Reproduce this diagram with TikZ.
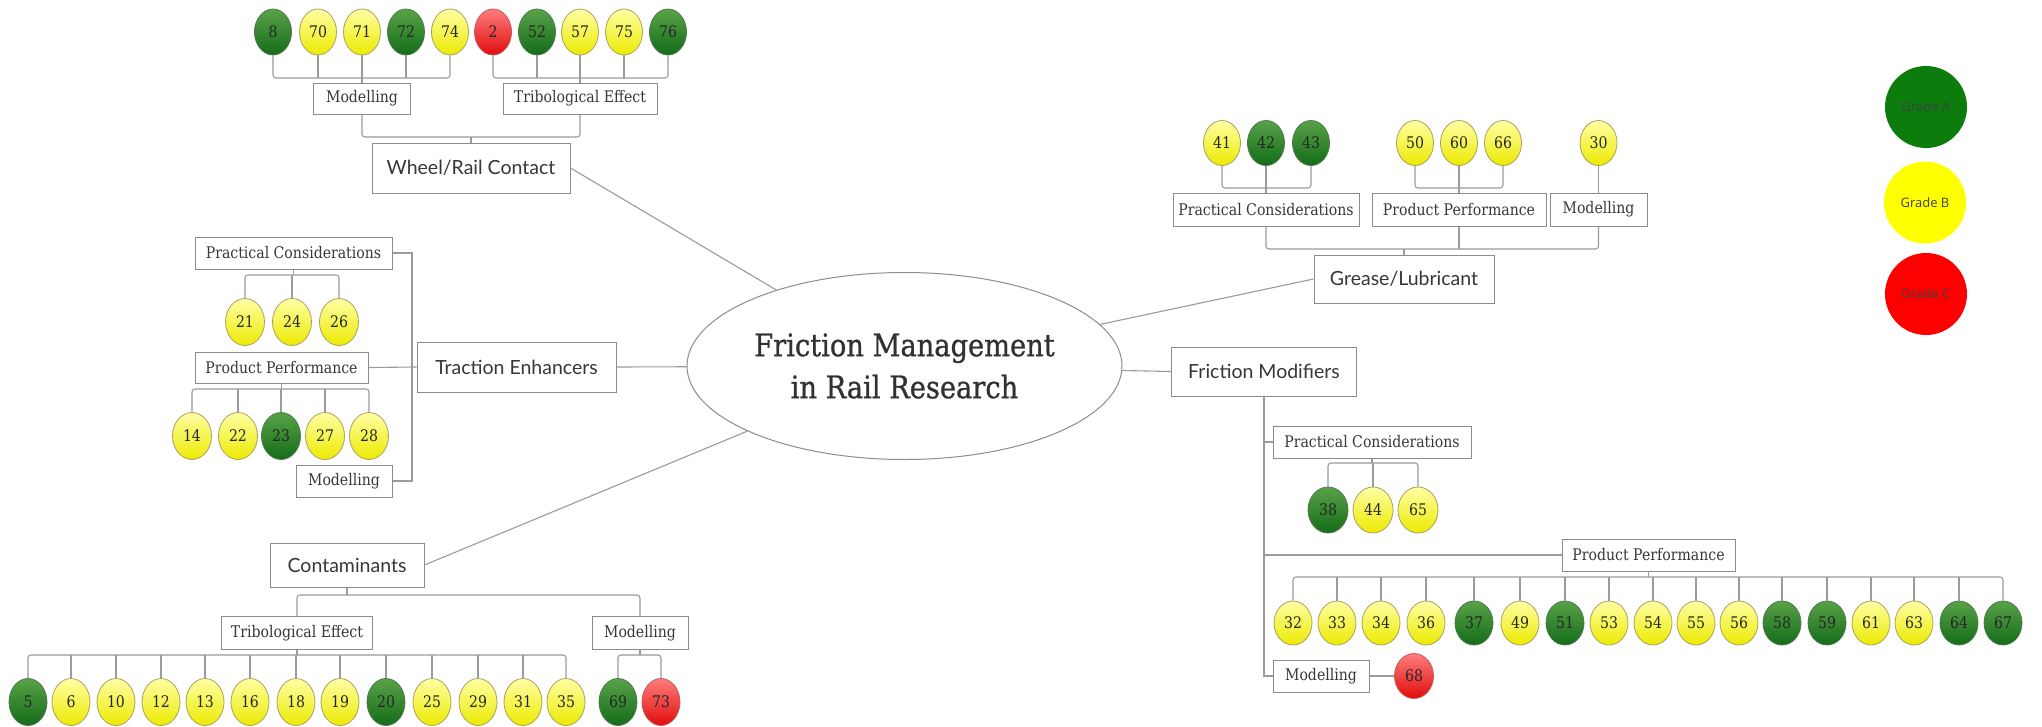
\documentclass[tikz,border=0pt]{standalone}
\usepackage{fontspec}
\setmainfont{DejaVu Serif}[FakeStretch=0.9]
\newfontfamily\slab{DejaVu Serif}[FakeStretch=0.88]
\newfontfamily\slabmed{DejaVu Serif}[FakeStretch=0.88, FakeBold=0.8]
\newfontfamily\robo{Lato}
\newfontfamily\legfont{Open Sans}
\usetikzlibrary{shapes.geometric}
\definecolor{linegray}{RGB}{155,155,155}
\definecolor{boxgray}{RGB}{140,140,140}
\definecolor{txt}{RGB}{55,55,55}
\definecolor{topA}{RGB}{88,162,72}
\definecolor{botA}{RGB}{20,108,24}
\definecolor{bordA}{RGB}{80,120,80}
\definecolor{topB}{RGB}{255,255,165}
\definecolor{botB}{RGB}{236,234,0}
\definecolor{bordB}{RGB}{170,160,95}
\definecolor{topC}{RGB}{255,125,125}
\definecolor{botC}{RGB}{224,12,12}
\definecolor{bordC}{RGB}{190,95,95}
\definecolor{legA}{RGB}{12,124,12}
\definecolor{legB}{RGB}{255,255,0}
\definecolor{legC}{RGB}{255,0,0}
\begin{document}
\begin{tikzpicture}[x=1pt,y=-1pt,
  conn/.style={draw=linegray, line width=1.1pt},
  brk/.style={conn, rounded corners=3pt},
  box/.style={draw=boxgray, fill=white, line width=1pt, inner sep=0pt, text=txt,
    font=\slab\fontsize{16}{19}\selectfont},
  mainbox/.style={box, font=\robo\fontsize{19.5}{22}\selectfont},
  circ/.style={ellipse, inner sep=0pt, minimum width=38pt, minimum height=46pt,
    line width=0.8pt, text=black!85, font=\slab\fontsize{16}{18}\selectfont},
  grade/.style={circ, draw=bord#1, top color=top#1, bottom color=bot#1},
  legend/.style={circle, inner sep=0pt, minimum size=82pt, text=black!75,
    font=\legfont\fontsize{13}{15}\selectfont},
  centre/.style={ellipse, draw=boxgray, line width=1pt, fill=white, inner sep=0pt,
    minimum width=435pt, minimum height=187pt, align=center, text=txt!90!black,
    font=\slabmed\fontsize{31}{42}\selectfont}]
\useasboundingbox (0,0) rectangle (2042,726);
\fill[white] (0,0) rectangle (2042,726);

% ---------------- centre
\node[centre] (fm) at (904.5,366) {Friction Management\\in Rail Research};

% ---------------- Wheel/Rail Contact
\node[mainbox, minimum width=198pt, minimum height=50pt] (wr) at (471,168) {Wheel/Rail Contact};
\node[box, minimum width=97pt, minimum height=31pt] (wrM) at (362,98.5) {Modelling};
\node[box, minimum width=154pt, minimum height=31pt] (wrT) at (580,98.5) {Tribological Effect};
\foreach \n/\x/\g in {8/273/A,70/318/B,71/362/B,72/406/A,74/450/B,2/493/C,52/537/A,57/580/B,75/624/B,76/668/A}
  \node[grade=\g, minimum width=37pt] (c\n) at (\x,32) {\n};
\coordinate (wrB) at (0,78);
\coordinate (wrB2) at (0,137);
\draw[brk] (c8.south) -- (c8.south |- wrB) -- (c74.south |- wrB) -- (c74.south);
\foreach \n in {70,71,72} \draw[conn] (c\n.south) -- (c\n.south |- wrB);
\draw[conn] (wrM.north) -- (wrM.north |- wrB);
\draw[brk] (c2.south) -- (c2.south |- wrB) -- (c76.south |- wrB) -- (c76.south);
\foreach \n in {52,57,75} \draw[conn] (c\n.south) -- (c\n.south |- wrB);
\draw[conn] (wrT.north) -- (wrT.north |- wrB);
\draw[brk] (wrM.south) -- (wrM.south |- wrB2) -- (wrT.south |- wrB2) -- (wrT.south);
\draw[conn] (wr.north) -- (wr.north |- wrB2);

% ---------------- Traction Enhancers
\node[mainbox, minimum width=199pt, minimum height=50pt] (te) at (516.5,367) {Traction Enhancers};
\node[box, minimum width=197pt, minimum height=32pt] (tePC) at (293.5,253) {Practical Considerations};
\node[box, minimum width=173pt, minimum height=31pt] (tePP) at (281.5,367.5) {Product Performance};
\node[box, minimum width=96pt, minimum height=32pt] (teM) at (344,481) {Modelling};
\foreach \n/\x/\g in {21/245/B,24/292/B,26/339/B}
  \node[grade=\g, minimum width=39pt, minimum height=47pt] (c\n) at (\x,322) {\n};
\foreach \n/\x/\g in {14/192/B,22/238/B,23/281/A,27/325/B,28/369/B}
  \node[grade=\g, minimum width=39pt, minimum height=47pt] (c\n) at (\x,436) {\n};
\coordinate (teSp) at (412,0);
\draw[conn] (tePC.east) -- (tePC.east -| teSp) -- (teM.east -| teSp) -- (teM.east);
\draw[conn] (tePP.east) -- (te.west);
\coordinate (tePCb) at (0,275);
\draw[brk] (c21.north) -- (c21.north |- tePCb) -- (c26.north |- tePCb) -- (c26.north);
\draw[conn] (c24.north) -- (c24.north |- tePCb);
\draw[conn] (tePC.south) -- (tePC.south |- tePCb);
\coordinate (tePPb) at (0,389);
\draw[brk] (c14.north) -- (c14.north |- tePPb) -- (c28.north |- tePPb) -- (c28.north);
\foreach \n in {22,23,27} \draw[conn] (c\n.north) -- (c\n.north |- tePPb);
\draw[conn] (tePP.south) -- (tePP.south |- tePPb);

% ---------------- Contaminants
\node[mainbox, minimum width=154pt, minimum height=44pt] (co) at (347,565) {Contaminants};
\node[box, minimum width=151pt, minimum height=33pt] (coTE) at (297,633) {Tribological Effect};
\node[box, minimum width=96pt, minimum height=33pt] (coM) at (640,633) {Modelling};
\foreach \n/\x/\g in {5/28/A,6/71/B,10/116/B,12/161/B,13/205/B,16/250/B,18/296/B,19/340/B,20/386/A,25/432/B,29/478/B,31/523/B,35/566/B,69/618/A,73/661/C}
  \node[grade=\g, minimum width=38pt, minimum height=47pt] (c\n) at (\x,702) {\n};
\coordinate (coB) at (0,595);
\coordinate (coB2) at (0,655);
\draw[brk] (coTE.north) -- (coTE.north |- coB) -- (coM.north |- coB) -- (coM.north);
\draw[conn] (co.south) -- (co.south |- coB);
\draw[brk] (c5.north) -- (c5.north |- coB2) -- (c35.north |- coB2) -- (c35.north);
\foreach \n in {6,10,12,13,16,18,19,20,25,29,31} \draw[conn] (c\n.north) -- (c\n.north |- coB2);
\draw[conn] (coTE.south) -- (coTE.south |- coB2);
\draw[brk] (c69.north) -- (c69.north |- coB2) -- (c73.north |- coB2) -- (c73.north);
\draw[conn] (coM.south) -- (coM.south |- coB2);

% ---------------- Grease/Lubricant
\node[mainbox, minimum width=180pt, minimum height=48pt] (gl) at (1404,279) {Grease/Lubricant};
\node[box, minimum width=186pt, minimum height=33pt] (glPC) at (1266,209.5) {Practical Considerations};
\node[box, minimum width=174pt, minimum height=33pt] (glPP) at (1459,209.5) {Product Performance};
\node[box, minimum width=97pt, minimum height=33pt] (glM) at (1598.5,209.5) {Modelling};
\foreach \n/\x/\g in {41/1222/B,42/1266/A,43/1311/A,50/1415/B,60/1459/B,66/1503/B,30/1598.5/B}
  \node[grade=\g, minimum width=37pt, minimum height=45pt] (c\n) at (\x,143) {\n};
\coordinate (glB) at (0,249);
\coordinate (glB2) at (0,188);
\draw[brk] (glPC.south) -- (glPC.south |- glB) -- (glM.south |- glB) -- (glM.south);
\draw[conn] (glPP.south) -- (glPP.south |- glB);
\draw[conn] (gl.north) -- (gl.north |- glB);
\draw[brk] (c41.south) -- (c41.south |- glB2) -- (c43.south |- glB2) -- (c43.south);
\draw[conn] (c42.south) -- (c42.south |- glB2);
\draw[conn] (glPC.north) -- (glPC.north |- glB2);
\draw[brk] (c50.south) -- (c50.south |- glB2) -- (c66.south |- glB2) -- (c66.south);
\draw[conn] (c60.south) -- (c60.south |- glB2);
\draw[conn] (glPP.north) -- (glPP.north |- glB2);
\draw[conn] (c30.south) -- (glM.north);

% ---------------- Friction Modifiers
\node[mainbox, minimum width=185pt, minimum height=49pt] (fmod) at (1264,371.5) {Friction Modifiers};
\node[box, minimum width=198pt, minimum height=32pt] (fmPC) at (1372,442) {Practical Considerations};
\node[box, minimum width=173pt, minimum height=32pt] (fmPP) at (1648.5,555) {Product Performance};
\node[box, minimum width=96pt, minimum height=32pt] (fmM) at (1321,676) {Modelling};
\foreach \n/\x/\g in {38/1328/A,44/1373/B,65/1418/B}
  \node[grade=\g, minimum width=40pt, minimum height=46pt] (c\n) at (\x,510) {\n};
\foreach \n/\x/\g in {32/1293/B,33/1337/B,34/1381/B,36/1426/B,37/1474/A,49/1520/B,51/1565/A,53/1609/B,54/1653/B,55/1696/B,56/1739/B,58/1782/A,59/1827/A,61/1871/B,63/1914/B,64/1959/A,67/2003/A}
  \node[grade=\g, minimum width=38pt, minimum height=44pt] (c\n) at (\x,623) {\n};
\node[grade=C, minimum width=39pt, minimum height=45pt] (c68) at (1414,676) {68};
\draw[conn] (fmod.south) -- (fmod.south |- fmM.west) -- (fmM.west);
\draw[conn] (fmPC.west) -- (fmPC.west -| fmod.south);
\draw[conn] (fmPP.west) -- (fmPP.west -| fmod.south);
\draw[conn] (fmM.east) -- (c68.west);
\coordinate (fmPCb) at (0,463);
\draw[brk] (c38.north) -- (c38.north |- fmPCb) -- (c65.north |- fmPCb) -- (c65.north);
\draw[conn] (c44.north) -- (c44.north |- fmPCb);
\draw[conn] (fmPC.south) -- (fmPC.south |- fmPCb);
\coordinate (fmPPb) at (0,577);
\draw[brk] (c32.north) -- (c32.north |- fmPPb) -- (c67.north |- fmPPb) -- (c67.north);
\foreach \n in {33,34,36,37,49,51,53,54,55,56,58,59,61,63,64} \draw[conn] (c\n.north) -- (c\n.north |- fmPPb);
\draw[conn] (fmPP.south) -- (fmPP.south |- fmPPb);

% ---------------- connections to centre
\draw[conn] (wr.east) -- (fm);
\draw[conn] (te.east) -- (fm);
\draw[conn] (co.east) -- (fm);
\draw[conn] (gl.west) -- (fm);
\draw[conn] (fmod.west) -- (fm);

% ---------------- legend
\node[legend, fill=legA] (la) at (1926,107) {Grade A};
\node[legend, fill=legB] (lb) at (1925,202.5) {Grade B};
\node[legend, fill=legC] (lc) at (1926,294) {Grade C};
\end{tikzpicture}
\end{document}
